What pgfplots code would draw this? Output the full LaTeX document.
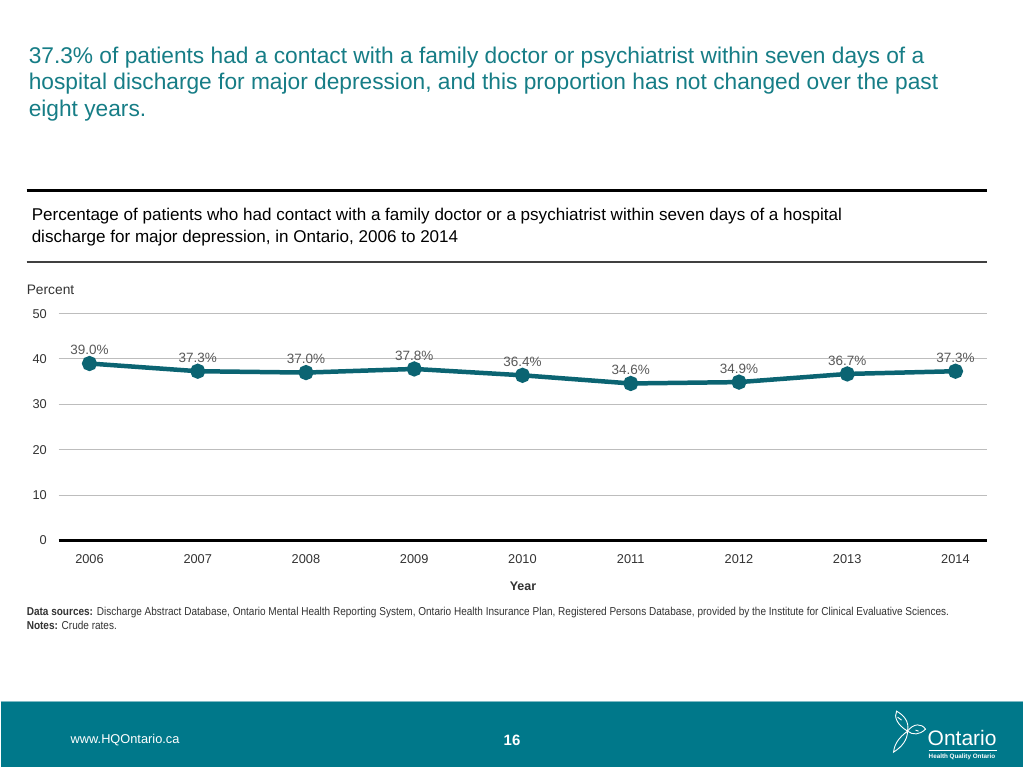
\documentclass[border=0pt]{standalone}
\usepackage{pgfplots}
\pgfplotsset{compat=1.18}
\usepackage{pgfplotstable}
\usepackage{fontspec}
\setmainfont{Liberation Sans}
\newfontfamily\narrow[FakeStretch=0.873]{Liberation Sans}
\definecolor{titleteal}{HTML}{167D86}
\definecolor{lineteal}{HTML}{0B6472}
\definecolor{footteal}{HTML}{00788A}
\definecolor{lblgray}{HTML}{595959}
\definecolor{txtgray}{HTML}{333333}
\definecolor{gridgray}{HTML}{BDBDBD}

\pgfplotstableread{
year value label
2006 39.0 39.0
2007 37.3 37.3
2008 37.0 37.0
2009 37.8 37.8
2010 36.4 36.4
2011 34.6 34.6
2012 34.9 34.9
2013 36.7 36.7
2014 37.3 37.3
}\datatable

\begin{document}
\begin{tikzpicture}[x=1pt,y=1pt]
\fill[white] (0,0) rectangle (1024,768);
% title
\begin{scope}[every node/.style={anchor=base west, inner sep=0, text=titleteal, font=\fontsize{22.75}{27}\selectfont}]
\node at (28,704.7) {37.3\% of patients had a contact with a family doctor or psychiatrist within seven days of a};
\node at (28,678) {hospital discharge for major depression, and this proportion has not changed over the past};
\node at (28,651.3) {eight years.};
\end{scope}
% rules
\draw[black, line width=3pt] (26,577.5) -- (988,577.5);
\draw[black!75, line width=2pt] (26,505.5) -- (988,505.5);
% subtitle
\begin{scope}[every node/.style={anchor=base west, inner sep=0, text=black, font=\fontsize{17.07}{20}\selectfont}]
\node at (31,547) {Percentage of patients who had contact with a family doctor or a psychiatrist within seven days of a hospital};
\node at (31,525) {discharge for major depression, in Ontario, 2006 to 2014};
\end{scope}
% Percent label
\node[anchor=base west, inner sep=0, text=txtgray, font=\fontsize{13.8}{15}\selectfont] at (26,473.5) {Percent};

\begin{axis}[
  at={(58pt,227pt)}, anchor=south west,
  scale only axis, width=930pt, height=227pt,
  xmin=2005.714, xmax=2014.295, ymin=0, ymax=50,
  axis line style={draw=none},
  major tick length=0pt,
  xtick={2006,...,2014},
  xticklabels={2006,2007,2008,2009,2010,2011,2012,2013,2014},
  ytick={10,20,30,40,50},
  extra y ticks={0},
  extra y tick style={grid style={black, line width=2.5pt}},
  ymajorgrids,
  grid style={gridgray, line width=1pt},
  tick label style={font=\fontsize{12.8}{14}\selectfont, text=txtgray},
  xticklabel style={anchor=base, inner sep=0pt, yshift=-23.5pt},
  yticklabel style={anchor=east, inner sep=0pt, xshift=-11.5pt},
  /pgf/number format/assume math mode=true,
  clip=false,
  xlabel={Year},
  xlabel style={font=\bfseries\fontsize{12.5}{15}\selectfont, text=txtgray, anchor=base, inner sep=0pt, at={(axis description cs:0.5,0)}, yshift=-50pt},
]
\addplot[color=lineteal, line width=4.5pt, mark=*, mark size=5.3pt,
  mark options={fill=lineteal, draw=none, solid},
  point meta=explicit symbolic,
  nodes near coords={\pgfplotspointmeta\%},
  nodes near coords style={anchor=center, inner sep=0pt, yshift=13.5pt, text=lblgray, font=\fontsize{13.5}{15}\selectfont},
] table[x=year, y=value, meta=label] {\datatable};
\end{axis}

% sources
\node[anchor=base west, inner sep=0, font=\narrow\fontsize{11.5}{12}\selectfont, text=txtgray] at (26,152) {\textbf{Data sources:} Discharge Abstract Database, Ontario Mental Health Reporting System, Ontario Health Insurance Plan, Registered Persons Database, provided by the Institute for Clinical Evaluative Sciences.};
\node[anchor=base west, inner sep=0, font=\narrow\fontsize{11.5}{12}\selectfont, text=txtgray] at (26,137.5) {\textbf{Notes:} Crude rates.};

% footer
\fill[footteal] (0,0) rectangle (1024,65.5);
\draw[footteal!50!white, line width=1.2pt] (0,65.5) -- (1024,65.5);
\node[anchor=base west, inner sep=0, text=white, font=\fontsize{12.8}{15}\selectfont] at (70,23.5) {www.HQOntario.ca};
\node[anchor=base, inner sep=0, text=white, font=\bfseries\fontsize{15}{17}\selectfont] at (512,21.5) {16};
\node[anchor=base west, inner sep=0, text=white, font=\fontsize{21}{24}\selectfont] at (928,21.5) {Ontario};
\draw[white, line width=0.8pt] (929,17) -- (998,17);
\node[anchor=base west, inner sep=0, text=white, font=\bfseries\fontsize{6.3}{7}\selectfont] at (929,9) {Health Quality Ontario};
% trillium
\begin{scope}[white, line width=0.9pt]
\draw (908,36) .. controls (898,42) and (894,50) .. (897,56) .. controls (904,52) and (910,46) .. (908,36);
\draw (908,36) .. controls (914,44) and (922,44) .. (926,38) .. controls (920,32) and (913,32) .. (908,36);
\draw (908,36) .. controls (900,30) and (895,24) .. (894,15) .. controls (902,20) and (908,27) .. (908,36);
\draw (898,50) -- (902,47);
\draw (916,37) -- (919,36);
\end{scope}
\end{tikzpicture}
\end{document}
